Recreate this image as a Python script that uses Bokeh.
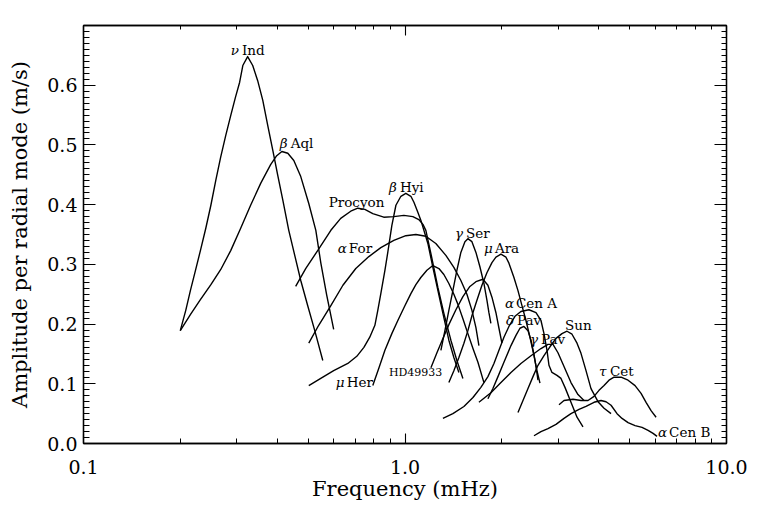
from bokeh.plotting import figure
from bokeh.models import (LogAxis, LinearAxis, FixedTicker, SingleIntervalTicker,
                          NumeralTickFormatter, Range1d)
from bokeh.core.properties import value
from bokeh.embed import file_html
from bokeh.resources import INLINE

# ---------------- data (frequency in mHz, amplitude in m/s) ----------------
nu_ind_f = [0.200, 0.208, 0.215, 0.223, 0.231, 0.240, 0.249, 0.258, 0.267, 0.277,
            0.287, 0.297, 0.306, 0.313, 0.324, 0.336, 0.348, 0.361, 0.374, 0.388,
            0.402, 0.417, 0.435, 0.454, 0.474, 0.498, 0.524, 0.555]
nu_ind_a = [0.189, 0.223, 0.256, 0.290, 0.323, 0.360, 0.399, 0.441, 0.479, 0.516,
            0.549, 0.580, 0.605, 0.633, 0.648, 0.633, 0.608, 0.575, 0.533, 0.491,
            0.449, 0.407, 0.357, 0.315, 0.273, 0.231, 0.189, 0.139]

beta_aql_f = [0.200, 0.215, 0.231, 0.249, 0.267, 0.287, 0.308, 0.331, 0.356, 0.382,
              0.399, 0.414, 0.432, 0.451, 0.474, 0.502, 0.528, 0.547, 0.571, 0.600]
beta_aql_a = [0.189, 0.216, 0.241, 0.266, 0.291, 0.323, 0.360, 0.399, 0.436, 0.467,
              0.482, 0.489, 0.486, 0.474, 0.447, 0.402, 0.357, 0.303, 0.248, 0.191]

procyon_f = [0.457, 0.491, 0.535, 0.588, 0.631, 0.678, 0.713, 0.750, 0.794, 0.859, 0.923,
             0.992, 1.058, 1.104, 1.137, 1.161, 1.204, 1.266, 1.321, 1.389, 1.450, 1.514]
procyon_a = [0.263, 0.293, 0.323, 0.357, 0.377, 0.389, 0.394, 0.392, 0.385, 0.379, 0.380,
             0.382, 0.380, 0.375, 0.367, 0.357, 0.318, 0.261, 0.218, 0.173, 0.139, 0.109]

beta_hyi_f = [0.502, 0.547, 0.600, 0.664, 0.708, 0.745, 0.777, 0.806, 0.823, 0.841, 0.866,
              0.884, 0.910, 0.937, 0.971, 1.006, 1.043, 1.066, 1.097, 1.120, 1.178, 1.221,
              1.266, 1.312, 1.369, 1.419, 1.471]
beta_hyi_a = [0.097, 0.109, 0.122, 0.134, 0.146, 0.161, 0.178, 0.198, 0.223, 0.251, 0.290,
              0.320, 0.365, 0.399, 0.414, 0.419, 0.414, 0.404, 0.387, 0.374, 0.335, 0.295,
              0.256, 0.218, 0.173, 0.144, 0.119]

alpha_for_f = [0.502, 0.539, 0.588, 0.641, 0.703, 0.772, 0.841, 0.923, 1.006, 1.081,
               1.161, 1.247, 1.340, 1.419, 1.492, 1.558, 1.615, 1.662, 1.698]
alpha_for_a = [0.168, 0.198, 0.231, 0.265, 0.293, 0.313, 0.328, 0.340, 0.348, 0.350,
               0.347, 0.335, 0.315, 0.295, 0.273, 0.250, 0.223, 0.194, 0.164]

mu_her_f = [0.794, 0.829, 0.866, 0.910, 0.950, 1.000, 1.043, 1.081, 1.120, 1.170, 1.221,
            1.275, 1.321, 1.369, 1.419, 1.461, 1.514, 1.569, 1.627, 1.686, 1.760]
mu_her_a = [0.097, 0.126, 0.156, 0.184, 0.206, 0.231, 0.251, 0.266, 0.278, 0.290, 0.298,
            0.293, 0.283, 0.268, 0.250, 0.233, 0.209, 0.184, 0.159, 0.136, 0.102]

hd49933_f = [1.204, 1.257, 1.312, 1.369, 1.440, 1.514, 1.592, 1.662, 1.747, 1.811,
             1.864, 1.918, 1.960, 2.002]
hd49933_a = [0.127, 0.152, 0.176, 0.199, 0.224, 0.246, 0.263, 0.271, 0.275, 0.265,
             0.245, 0.219, 0.193, 0.168]

gamma_ser_f = [1.293, 1.331, 1.369, 1.409, 1.450, 1.492, 1.536, 1.569, 1.615, 1.662,
               1.710, 1.760, 1.798, 1.824, 1.850]
gamma_ser_a = [0.156, 0.189, 0.223, 0.256, 0.290, 0.320, 0.338, 0.343, 0.338, 0.320,
               0.296, 0.268, 0.240, 0.219, 0.201]

mu_ara_f = [1.369, 1.419, 1.471, 1.525, 1.569, 1.615, 1.674, 1.735, 1.798, 1.864, 1.918,
            1.988, 2.061, 2.105, 2.182, 2.246, 2.311, 2.378, 2.447, 2.519, 2.573, 2.629]
mu_ara_a = [0.102, 0.122, 0.144, 0.168, 0.189, 0.214, 0.240, 0.265, 0.286, 0.303, 0.312,
            0.317, 0.312, 0.302, 0.278, 0.256, 0.231, 0.206, 0.178, 0.147, 0.122, 0.101]

alpha_cen_a_f = [1.312, 1.409, 1.525, 1.627, 1.722, 1.811, 1.891, 1.960, 2.031, 2.105,
                 2.198, 2.294, 2.430, 2.555, 2.648, 2.706, 2.765, 2.804, 2.865, 2.970,
                 3.056, 3.145, 3.283, 3.428, 3.578]
alpha_cen_a_a = [0.042, 0.050, 0.062, 0.077, 0.094, 0.112, 0.134, 0.156, 0.178, 0.196,
                 0.213, 0.221, 0.224, 0.219, 0.206, 0.184, 0.156, 0.131, 0.119, 0.114,
                 0.109, 0.094, 0.069, 0.044, 0.028]

delta_pav_f = [1.811, 1.877, 1.946, 2.031, 2.136, 2.214, 2.278, 2.344, 2.413, 2.465,
               2.519, 2.555, 2.592]
delta_pav_a = [0.075, 0.092, 0.112, 0.136, 0.164, 0.181, 0.193, 0.196, 0.189, 0.173,
               0.149, 0.129, 0.106]

gamma_pav_f = [1.698, 1.850, 1.988, 2.136, 2.294, 2.465, 2.648, 2.784, 2.886, 2.991,
               3.123, 3.283, 3.452, 3.604]
gamma_pav_a = [0.069, 0.085, 0.102, 0.119, 0.134, 0.147, 0.159, 0.166, 0.166, 0.152,
               0.129, 0.102, 0.082, 0.072]

sun_f = [2.246, 2.328, 2.413, 2.501, 2.592, 2.706, 2.824, 2.949, 3.078, 3.191, 3.307,
         3.428, 3.527, 3.656, 3.789, 3.985, 4.160, 4.374]
sun_a = [0.052, 0.072, 0.092, 0.112, 0.131, 0.147, 0.162, 0.176, 0.184, 0.188, 0.183,
         0.168, 0.151, 0.122, 0.092, 0.070, 0.059, 0.050]

tau_cet_f = [3.013, 3.123, 3.331, 3.527, 3.709, 3.872, 4.013, 4.160, 4.311, 4.469,
             4.699, 4.941, 5.195, 5.423, 5.621, 5.826, 6.039]
tau_cet_a = [0.065, 0.072, 0.074, 0.072, 0.072, 0.079, 0.089, 0.097, 0.106, 0.111,
             0.111, 0.106, 0.097, 0.084, 0.069, 0.055, 0.044]

alpha_cen_b_f = [2.519, 2.648, 2.784, 2.949, 3.123, 3.283, 3.477, 3.656, 3.872, 4.071,
                 4.220, 4.374, 4.566, 4.732, 4.941, 5.195, 5.462, 5.702, 5.910, 6.082]
alpha_cen_b_a = [0.013, 0.020, 0.025, 0.032, 0.042, 0.050, 0.057, 0.062, 0.069, 0.072,
                 0.070, 0.064, 0.050, 0.042, 0.035, 0.030, 0.027, 0.022, 0.017, 0.012]

# star labels: Greek letter (italic) + name, left-aligned
greek_text = ["\u03bd", "\u03b2", "\u03b2", "\u03b1", "\u03b3", "\u03bc", "\u03bc",
              "\u03b1", "\u03b4", "\u03b3", "\u03c4", "\u03b1"]
greek_freq = [0.287, 0.408, 0.891, 0.618, 1.430, 1.760, 0.609, 2.046, 2.061, 2.447,
              4.013, 6.126]
name_text = ["Ind", "Aql", "Hyi", "For", "Ser", "Ara", "Her", "Cen A", "Pav", "Pav",
             "Cet", "Cen B"]
name_freq = [0.311, 0.441, 0.964, 0.669, 1.547, 1.904, 0.659, 2.214, 2.230, 2.648,
             4.342, 6.628]
greek_amp = [0.659, 0.503, 0.430, 0.327, 0.352, 0.327, 0.103, 0.235, 0.206, 0.175,
             0.122, 0.019]
plain_text = ["Procyon", "Sun"]
plain_freq = [0.579, 3.145]
plain_amp = [0.404, 0.198]
small_label_text = ["HD49933"]
small_label_freq = [0.891]
small_label_amp = [0.119]

x_major_ticks = [0.1, 1.0, 10.0]
x_minor_ticks = [0.2, 0.3, 0.4, 0.5, 0.6, 0.7, 0.8, 0.9,
                 2.0, 3.0, 4.0, 5.0, 6.0, 7.0, 8.0, 9.0]

curves = [(nu_ind_f, nu_ind_a), (beta_aql_f, beta_aql_a), (procyon_f, procyon_a),
          (beta_hyi_f, beta_hyi_a), (alpha_for_f, alpha_for_a), (mu_her_f, mu_her_a),
          (hd49933_f, hd49933_a), (gamma_ser_f, gamma_ser_a), (mu_ara_f, mu_ara_a),
          (alpha_cen_a_f, alpha_cen_a_a), (delta_pav_f, delta_pav_a),
          (gamma_pav_f, gamma_pav_a), (sun_f, sun_a), (tau_cet_f, tau_cet_a),
          (alpha_cen_b_f, alpha_cen_b_a)]

FONT = "DejaVu Serif"

p = figure(width=776, height=507, x_axis_type="log",
           x_range=Range1d(0.1, 10.0), y_range=Range1d(0.0, 0.7),
           output_backend="svg", toolbar_location=None,
           min_border_left=83, min_border_right=50, min_border_top=25,
           min_border_bottom=64)
p.grid.visible = False
p.outline_line_color = "black"
p.outline_line_width = 1.3
p.background_fill_color = "white"
p.border_fill_color = "white"

for f, a in curves:
    p.line(f, a, line_color="black", line_width=1.4, line_join="round")

p.text(x=greek_freq, y=greek_amp, text=greek_text, text_align="left",
       text_baseline="middle", text_font=value(FONT), text_font_size="13.5px",
       text_font_style="italic", text_color="black")
p.text(x=name_freq, y=greek_amp, text=name_text, text_align="left",
       text_baseline="middle", text_font=value(FONT), text_font_size="13.5px",
       text_color="black")
p.text(x=plain_freq, y=plain_amp, text=plain_text, text_align="left",
       text_baseline="middle", text_font=value(FONT), text_font_size="13.5px",
       text_color="black")
p.text(x=small_label_freq, y=small_label_amp, text=small_label_text, text_align="left",
       text_baseline="middle", text_font=value(FONT), text_font_size="11px",
       text_color="black")

xticker = FixedTicker(ticks=x_major_ticks, minor_ticks=x_minor_ticks)
yticker = SingleIntervalTicker(interval=0.1, num_minor_ticks=10)


def style_axis(ax, major_len, minor_len):
    ax.axis_line_color = "black"
    ax.axis_line_width = 1.3
    ax.major_tick_line_color = "black"
    ax.minor_tick_line_color = "black"
    ax.major_tick_line_width = 1.1
    ax.minor_tick_line_width = 1.0
    ax.major_tick_in = major_len
    ax.major_tick_out = 0
    ax.minor_tick_in = minor_len
    ax.minor_tick_out = 0
    ax.major_label_text_font = FONT
    ax.major_label_text_font_size = "19px"
    ax.major_label_text_color = "black"
    ax.axis_label_text_font = FONT
    ax.axis_label_text_font_size = "21px"
    ax.axis_label_text_font_style = "normal"
    ax.axis_label_text_color = "black"


xa = p.xaxis[0]
xa.ticker = xticker
xa.formatter = NumeralTickFormatter(format="0.0")
xa.axis_label = "Frequency (mHz)"
style_axis(xa, 10, 5)
xa.major_label_standoff = 16
xa.axis_label_standoff = 0

ya = p.yaxis[0]
ya.ticker = yticker
ya.formatter = NumeralTickFormatter(format="0.0")
ya.axis_label = "Amplitude per radial mode (m/s)"
style_axis(ya, 12, 6)
ya.major_label_standoff = 6
ya.axis_label_standoff = 12

top = LogAxis(ticker=FixedTicker(ticks=x_major_ticks, minor_ticks=x_minor_ticks))
style_axis(top, 10, 4)
top.major_label_text_font_size = "0px"
top.major_label_text_color = None
top.major_label_standoff = 0
p.add_layout(top, "above")

right = LinearAxis(ticker=SingleIntervalTicker(interval=0.1, num_minor_ticks=10))
style_axis(right, 12, 5)
right.major_label_text_font_size = "0px"
right.major_label_text_color = None
right.major_label_standoff = 0
p.add_layout(right, "right")

open("out.html", "w").write(file_html(p, INLINE))
